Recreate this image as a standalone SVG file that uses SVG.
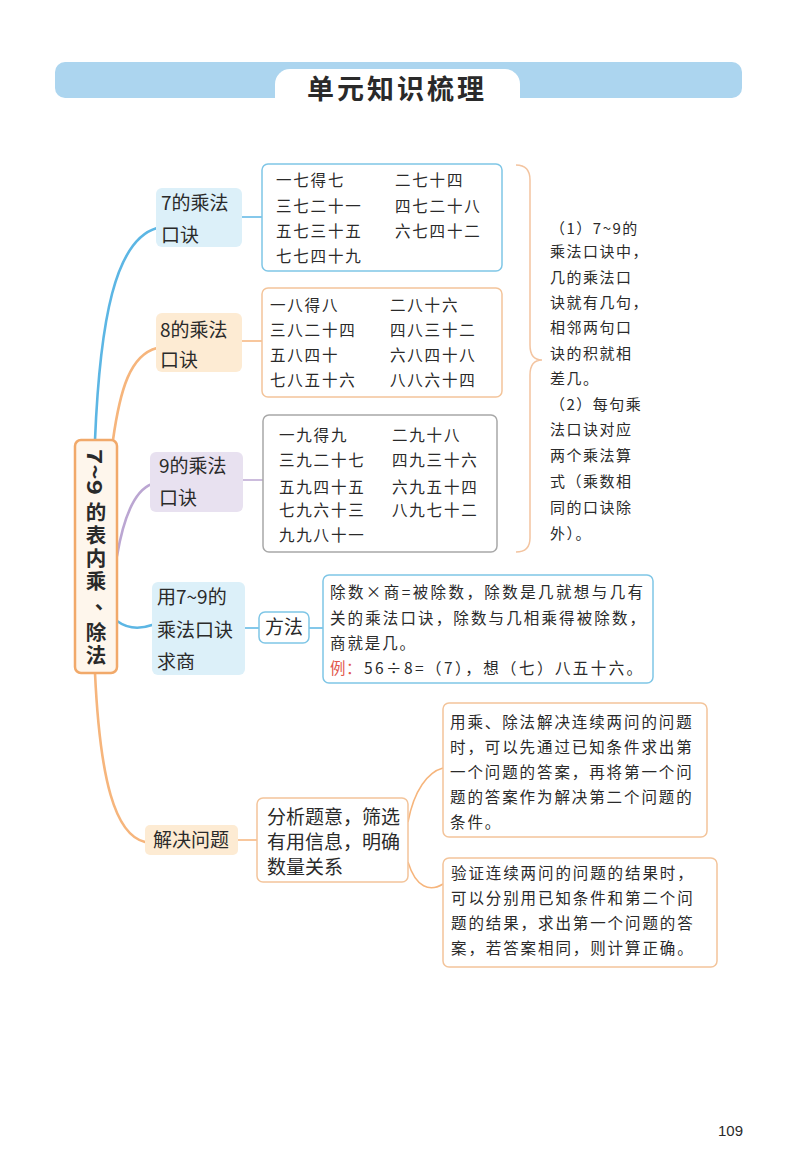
<svg xmlns="http://www.w3.org/2000/svg" width="800" height="1173" viewBox="0 0 800 1173">
<style>
text{font-family:"Noto Sans CJK SC","Noto Sans",sans-serif;fill:#2a2a2a}
.node{font-size:19px}
.kv{font-size:15.5px;letter-spacing:1.8px}
.note{font-size:15px;letter-spacing:1.5px}
.para{font-size:15.5px;letter-spacing:1.9px}
.root{font-size:20.5px;font-weight:bold}
.ln{fill:none;stroke-width:2.6;stroke-linecap:round}
.thin{fill:none;stroke-width:1.5}
</style>
<rect width="800" height="1173" fill="#ffffff"/>
<g id="header">
<rect x="55" y="62" width="687" height="36" rx="10" fill="#acd5ef"/>
<rect x="275" y="69" width="245" height="45" rx="15" fill="#ffffff"/>
<text x="397" y="99" font-size="27" font-weight="bold" text-anchor="middle" letter-spacing="3">单元知识梳理</text>
</g>
<g id="connectors">
<path class="ln" stroke="#5cb6e4" d="M95,440 C100,320 115,240 157,228"/>
<path class="ln" stroke="#f6b57c" d="M113,440 C120,390 130,355 157,348"/>
<path class="ln" stroke="#bba6d2" d="M117,556 C124,515 135,490 152,484"/>
<path class="ln" stroke="#5cb6e4" d="M117,621 Q132,632 152,625"/>
<path class="ln" stroke="#f6b57c" d="M95,673 C100,780 115,835 145,842"/>
<path class="thin" stroke="#5cb6e4" d="M242,217 H262"/>
<path class="thin" stroke="#f6b57c" d="M242,341 H262"/>
<path class="thin" stroke="#bba6d2" d="M243,480 H263"/>
<path class="thin" stroke="#5cb6e4" d="M245,628 H259 M309,628 H323"/>
<path class="thin" stroke="#f6b57c" d="M238,840 H257"/>
<path class="thin" stroke="#f6b57c" d="M408,822 C414,790 428,772 443,768"/>
<path class="thin" stroke="#f6b57c" d="M408,862 C416,888 430,892 443,884"/>
<path class="thin" stroke="#f3c4a0" d="M516,165 Q530,165 530,180 V345 Q530,360 542,360 Q530,360 530,375 V538 Q530,552 516,552"/>
</g>
<g id="root">
<rect x="75" y="440" width="42" height="233" rx="6" fill="#fef6ec" stroke="#f1a96a" stroke-width="2.5"/>
<text class="root" x="96" y="472" text-anchor="middle" dominant-baseline="central" textLength="46" lengthAdjust="spacingAndGlyphs" transform="rotate(90 96 472)">7~9</text>
<text class="root" text-anchor="middle" dominant-baseline="central"><tspan x="96" y="511">的</tspan><tspan x="96" y="534">表</tspan><tspan x="96" y="557">内</tspan><tspan x="96" y="580">乘</tspan><tspan x="105" y="600">、</tspan><tspan x="96" y="631">除</tspan><tspan x="96" y="654">法</tspan></text>
</g>
<g id="n7">
<rect x="156" y="188" width="86" height="59" rx="6" fill="#dcf0f9"/>
<text class="node" x="161" y="210">7的乘法</text>
<text class="node" x="161" y="242">口诀</text>
</g>
<g id="n8">
<rect x="156" y="313" width="86" height="59" rx="6" fill="#fdebd3"/>
<text class="node" x="160" y="337">8的乘法</text>
<text class="node" x="160" y="367">口诀</text>
</g>
<g id="n9">
<rect x="150" y="452" width="93" height="60" rx="6" fill="#e8e1f0"/>
<text class="node" x="159" y="473">9的乘法</text>
<text class="node" x="159" y="505">口诀</text>
</g>
<g id="nDiv">
<rect x="152" y="582" width="93" height="93" rx="6" fill="#dcf0f9"/>
<text class="node" x="157" y="604">用7~9的</text>
<text class="node" x="157" y="637">乘法口诀</text>
<text class="node" x="157" y="669">求商</text>
</g>
<g id="nMethod">
<rect x="259" y="612" width="50" height="31" rx="6" fill="#ffffff" stroke="#7fc6e6" stroke-width="1.5"/>
<text class="node" x="284" y="634" text-anchor="middle">方法</text>
</g>
<g id="nSolve">
<rect x="145" y="825" width="93" height="30" rx="5" fill="#fdebd3"/>
<text class="node" x="191" y="847" text-anchor="middle">解决问题</text>
</g>
<g id="nAnalyze">
<rect x="257" y="798" width="151" height="84" rx="6" fill="#ffffff" stroke="#f3c49a" stroke-width="1.5"/>
<text class="node" x="267" y="824">分析题意，筛选</text>
<text class="node" x="267" y="849">有用信息，明确</text>
<text class="node" x="267" y="874">数量关系</text>
</g>
<g id="box7">
<rect x="262" y="164" width="240" height="107" rx="6" fill="#ffffff" stroke="#7fc6e6" stroke-width="1.5"/>
<text class="kv" x="276" y="186">一七得七</text>
<text class="kv" x="395" y="186">二七十四</text>
<text class="kv" x="276" y="212">三七二十一</text>
<text class="kv" x="395" y="212">四七二十八</text>
<text class="kv" x="276" y="237">五七三十五</text>
<text class="kv" x="395" y="237">六七四十二</text>
<text class="kv" x="276" y="262">七七四十九</text>
</g>
<g id="box8">
<rect x="262" y="288" width="240" height="109" rx="6" fill="#ffffff" stroke="#f3c49a" stroke-width="1.5"/>
<text class="kv" x="270" y="311">一八得八</text>
<text class="kv" x="390" y="311">二八十六</text>
<text class="kv" x="270" y="336">三八二十四</text>
<text class="kv" x="390" y="336">四八三十二</text>
<text class="kv" x="270" y="361">五八四十</text>
<text class="kv" x="390" y="361">六八四十八</text>
<text class="kv" x="270" y="386">七八五十六</text>
<text class="kv" x="390" y="386">八八六十四</text>
</g>
<g id="box9">
<rect x="263" y="415" width="234" height="137" rx="6" fill="#ffffff" stroke="#a8a8a8" stroke-width="1.5"/>
<text class="kv" x="279" y="441">一九得九</text>
<text class="kv" x="392" y="441">二九十八</text>
<text class="kv" x="279" y="466">三九二十七</text>
<text class="kv" x="392" y="466">四九三十六</text>
<text class="kv" x="279" y="493">五九四十五</text>
<text class="kv" x="392" y="493">六九五十四</text>
<text class="kv" x="279" y="516">七九六十三</text>
<text class="kv" x="392" y="516">八九七十二</text>
<text class="kv" x="279" y="541">九九八十一</text>
</g>
<g id="note">
<text class="note" x="550" y="234">（1）7~9的</text>
<text class="note" x="550" y="257">乘法口诀中，</text>
<text class="note" x="550" y="283">几的乘法口</text>
<text class="note" x="550" y="308">诀就有几句，</text>
<text class="note" x="550" y="333">相邻两句口</text>
<text class="note" x="550" y="359">诀的积就相</text>
<text class="note" x="550" y="384">差几。</text>
<text class="note" x="550" y="410">（2）每句乘</text>
<text class="note" x="550" y="435">法口诀对应</text>
<text class="note" x="550" y="461">两个乘法算</text>
<text class="note" x="550" y="487">式（乘数相</text>
<text class="note" x="550" y="513">同的口诀除</text>
<text class="note" x="550" y="539">外）。</text>
</g>
<g id="methodBox">
<rect x="323" y="575" width="330" height="108" rx="6" fill="#ffffff" stroke="#7fc6e6" stroke-width="1.5"/>
<text class="para" x="330" y="598" textLength="315" lengthAdjust="spacing">除数×商=被除数，除数是几就想与几有</text>
<text class="para" x="330" y="624" textLength="317" lengthAdjust="spacing">关的乘法口诀，除数与几相乘得被除数，</text>
<text class="para" x="330" y="649">商就是几。</text>
<text class="para" y="674"><tspan x="330" style="fill:#e2574c">例</tspan><tspan x="346" style="fill:#e2574c">：</tspan><tspan x="364" textLength="280" lengthAdjust="spacing">56÷8=（7），想（七）八五十六。</tspan></text>
</g>
<g id="probBox1">
<rect x="443" y="703" width="264" height="134" rx="6" fill="#ffffff" stroke="#f3c49a" stroke-width="1.5"/>
<text class="para" x="450" y="728">用乘、除法解决连续两问的问题</text>
<text class="para" x="450" y="753">时，可以先通过已知条件求出第</text>
<text class="para" x="450" y="778">一个问题的答案，再将第一个问</text>
<text class="para" x="450" y="803">题的答案作为解决第二个问题的</text>
<text class="para" x="450" y="828">条件。</text>
</g>
<g id="probBox2">
<rect x="443" y="858" width="274" height="109" rx="6" fill="#ffffff" stroke="#f3c49a" stroke-width="1.5"/>
<text class="para" x="451" y="879">验证连续两问的问题的结果时，</text>
<text class="para" x="451" y="904">可以分别用已知条件和第二个问</text>
<text class="para" x="451" y="929">题的结果，求出第一个问题的答</text>
<text class="para" x="451" y="954">案，若答案相同，则计算正确。</text>
</g>
<text x="718" y="1136" font-size="15" style="font-family:'Liberation Sans',Arial,sans-serif">109</text>
</svg>
